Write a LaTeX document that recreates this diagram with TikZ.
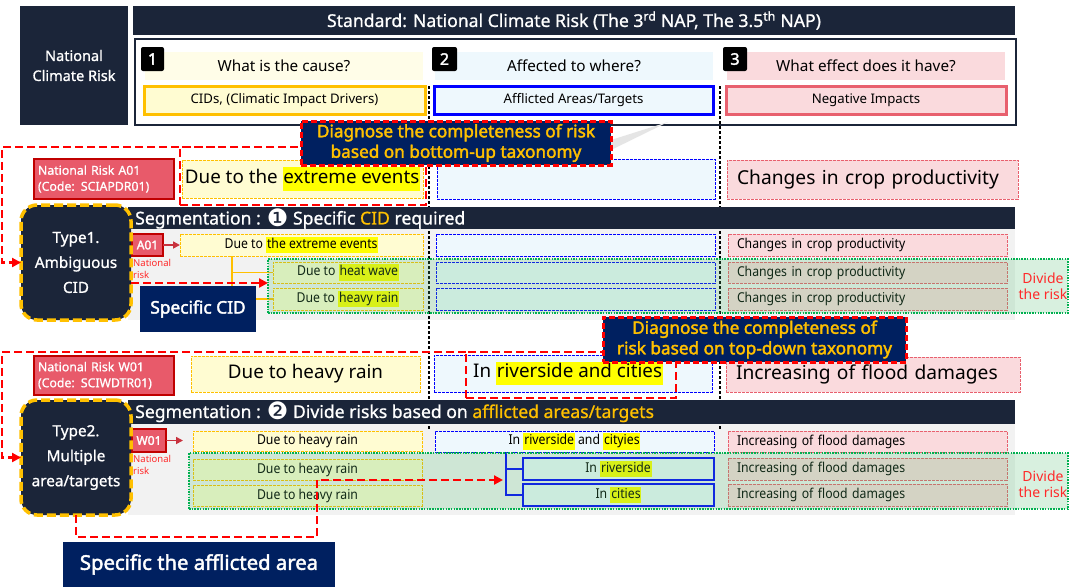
\documentclass[tikz,border=0pt]{standalone}
\usepackage{fontspec}
\setmainfont{Noto Sans}[BoldFont={Noto Sans},BoldFeatures={FakeBold=2.2}]
\newfontfamily\medfont[FakeBold=0.9]{Noto Sans}
\newfontfamily\dingfont{DejaVu Sans}
\newfontfamily\condfont[FakeStretch=0.9]{Noto Sans}
\usetikzlibrary{arrows.meta,calc}

\definecolor{navyA}{HTML}{1B2539}
\definecolor{navyB}{HTML}{002060}
\definecolor{gold}{HTML}{FFC000}
\definecolor{hly}{HTML}{FFFF00}
\definecolor{lyel}{HTML}{FFFCD2}
\definecolor{lyelband}{HTML}{FFFDE8}
\definecolor{lblue}{HTML}{EEF8FD}
\definecolor{lpink}{HTML}{FADADD}
\definecolor{pinkbd}{HTML}{E8606E}
\definecolor{riskfill}{HTML}{E85A6A}
\definecolor{riskbd}{HTML}{C00000}
\definecolor{riskred}{HTML}{FF2A2A}
\definecolor{panel}{HTML}{F2F2F2}
\definecolor{greenbd}{HTML}{00B050}
\definecolor{greenov}{HTML}{50BE6E}
\definecolor{arrowred}{HTML}{C8323E}

\newcommand\fsz[2]{\fontsize{#1}{#2}\selectfont}
\newcommand\hlt[1]{{\setlength\fboxsep{0.8pt}\colorbox{hly}{\strut#1}}}
\newcommand\dingnum[1]{\raisebox{-1.6pt}{\dingfont\fsz{24}{18}#1}}
% box from its top-left (x1,y1) to bottom-right (x2,y2), text centred
\newcommand\mkbox[7]{\node[#6,inner sep=0pt,outer sep=0pt,anchor=north west,
  minimum width={(#4-#2)*1pt},minimum height={(#5-#3)*1pt}] (#1) at (#2,#3) {#7};}
% same, text flush left with a padding
\newcommand\mkboxl[8]{\pgfmathsetmacro\tw{#4-#2-2*#7}\node[#6,inner ysep=0pt,inner xsep=#7pt,
  outer sep=0pt,anchor=north west,text width=\tw pt,align=left,
  minimum height={(#5-#3)*1pt}] (#1) at (#2,#3) {#8};}

\tikzset{
  badge/.style={fill=black,rounded corners=2pt,text=white,font=\fsz{16}{18}\bfseries},
  riskbox/.style={fill=riskfill,draw=riskbd,line width=2pt,text=white,font=\medfont\fsz{12.3}{16}},
  smallrisk/.style={fill=riskfill,draw=riskbd,line width=1.5pt,text=white,font=\fsz{12}{14}\bfseries},
  bigyel/.style={fill=lyel,draw=gold,line width=0.8pt,dash pattern=on 3pt off 1pt,font=\fsz{18.8}{22}},
  bigblue/.style={fill=lblue,draw=blue,line width=0.8pt,dash pattern=on 3pt off 1pt,font=\fsz{18.8}{22}},
  bigpink/.style={fill=lpink,draw=pinkbd,line width=0.8pt,dash pattern=on 3pt off 1pt,font=\fsz{19.2}{22}},
  rowyel/.style={fill=lyel,draw=gold,line width=0.9pt,dash pattern=on 3pt off 1pt,font=\condfont\fsz{13.6}{15}},
  rowblue/.style={fill=lblue,draw=blue,line width=0.9pt,dash pattern=on 3pt off 1pt,font=\condfont\fsz{13.6}{15}},
  rowbluesolid/.style={fill=lblue,draw=blue,line width=1.3pt,font=\condfont\fsz{13.6}{15}},
  rowpink/.style={fill=lpink,draw=pinkbd,line width=0.9pt,dash pattern=on 3pt off 1pt,font=\condfont\fsz{13.6}{15}},
  segbar/.style={fill=navyA},
  segtext/.style={text=white,font=\medfont\fsz{17.6}{18},anchor=west,inner sep=0pt},
  typebox/.style={fill=navyA,draw=gold,line width=3.5pt,dash pattern=on 9pt off 4pt,
    rounded corners=16pt,text=white,align=center,font=\medfont\fsz{15.3}{25}},
  reddash/.style={draw=red,line width=2.5pt,dash pattern=on 8pt off 4pt},
  redtip/.style={-{Triangle[length=9pt,width=9pt]}},
  diagbox/.style={fill=navyB,draw=red,line width=3pt,dash pattern=on 6pt off 3pt,
    text=gold,align=center,font=\fsz{17.2}{20.5}\bfseries},
  specbox/.style={fill=navyB,text=white,font=\fsz{17.3}{20}\bfseries},
  greenov/.style={fill=greenov,fill opacity=0.22,draw=greenbd,draw opacity=1,
    line width=2.5pt,dash pattern=on 1.5pt off 1.2pt},
  divider/.style={draw=black,line width=1.6pt,dash pattern=on 3pt off 2pt},
  natlabel/.style={text=riskred,align=left,font=\fsz{9.5}{12},anchor=north west,inner sep=0pt},
  dividetext/.style={text=riskred,align=center,font=\fsz{14}{16}},
  colq/.style={font=\fsz{15.3}{17}},
  colk/.style={line width=3pt,font=\fsz{13.2}{15}},
}

\begin{document}
\begin{tikzpicture}[x=1pt,y=-1pt]
\useasboundingbox (0,0) rectangle (1070,587);
\fill[white] (0,0) rectangle (1070,587);

% ---------- header ----------
\mkbox{ncr}{20}{6}{128}{125}{fill=navyA,text=white,align=center,font=\medfont\fsz{14.5}{20}}{National\\Climate Risk}
\mkbox{std}{133}{6}{1015}{35}{fill=navyA,text=white,font=\medfont\fsz{17.6}{19}}{Standard: National Climate Risk (The 3\textsuperscript{rd} NAP, The 3.5\textsuperscript{th} NAP)}
\mkbox{tbl}{135}{39}{1016}{125}{draw=navyA,line width=2pt,fill=white}{}
\mkbox{q1}{145}{52}{423}{80}{fill=lyelband,colq}{What is the cause?}
\mkbox{q2}{435}{52}{713}{80}{fill=lblue,colq}{Affected to where?}
\mkbox{q3}{727}{52}{1005}{80}{fill=lpink,colq}{What effect does it have?}
\mkbox{n1}{141}{47}{164}{71}{badge}{1}
\mkbox{n2}{432}{47}{457}{71}{badge}{2}
\mkbox{n3}{723}{47}{747}{71}{badge}{3}
\mkbox{k1}{144}{86}{425}{114}{fill=lyel,draw=gold,colk}{CIDs, (Climatic Impact Drivers)}
\mkbox{k2}{434}{86}{713}{114}{fill=lblue,draw=blue,colk}{Afflicted Areas/Targets}
\mkbox{k3}{726}{86}{1006}{114}{fill=lpink,draw=pinkbd,colk}{Negative Impacts}

% ---------- panels behind the segmented rows ----------
\mkbox{pan1}{128}{229}{1015}{320}{fill=panel}{}
\mkbox{pan2}{128}{424}{1015}{515}{fill=panel}{}

% column dividers
\draw[divider] (429,86) -- (429,430);
\draw[divider] (720,86) -- (720,430);

% ---------- national risk A01 ----------
\mkboxl{natA}{34}{159}{174}{199}{riskbox}{4}{National Risk A01\\(Code: SCIAPDR01)}
\mkbox{dueA}{182}{160}{423}{198}{bigyel}{Due to the \hlt{extreme events}}
\mkbox{blueA}{437}{159}{715}{199}{bigblue}{}
\mkboxl{pinkA}{727}{160}{1018}{199}{bigpink}{10}{Changes in crop productivity}
\mkbox{redA}{180}{147}{426}{205}{reddash}{}

% ---------- type 1 rows ----------
\mkbox{a01}{132}{234}{163}{256}{smallrisk}{A01}
\node[natlabel] (natlab1) at (133,259) {National\\risk};
\mkbox{ya1}{180}{234}{423}{256}{rowyel}{Due to \hlt{the extreme events}}
\mkbox{ya2}{273}{262}{423}{283}{rowyel}{Due to \hlt{heat wave}}
\mkbox{ya3}{273}{288}{423}{310}{rowyel}{Due to \hlt{heavy rain}}
\mkbox{ba1}{436}{234}{715}{256}{rowblue}{}
\mkbox{ba2}{436}{262}{715}{283}{rowblue}{}
\mkbox{ba3}{436}{288}{715}{310}{rowblue}{}
\mkboxl{pa1}{728}{234}{1007}{256}{rowpink}{9}{Changes in crop productivity}
\mkboxl{pa2}{728}{262}{1007}{283}{rowpink}{9}{Changes in crop productivity}
\mkboxl{pa3}{728}{288}{1007}{310}{rowpink}{9}{Changes in crop productivity}

\coordinate (t1) at ($(ya1.south west)+(52,0)$);
\draw[gold,line width=1.6pt] (t1) |- (ya2.west);
\draw[gold,line width=1.6pt] (t1) |- (ya3.west);
\draw[arrowred,line width=1.6pt,-{Triangle[length=7pt,width=7pt]}] (a01.east) -- (ya1.west);

\mkbox{green1}{268}{259}{1068}{313}{greenov}{}
\mkbox{specA}{140}{286}{256}{332}{specbox}{Specific CID}
\node[dividetext] (div1) at (1043,286) {Divide\\the risk};

% ---------- national risk W01 ----------
\mkboxl{natW}{34}{356}{174}{395}{riskbox}{4}{National Risk W01\\(Code: SCIWDTR01)}
\mkbox{dueW}{191}{356}{420}{392}{bigyel}{Due to heavy rain}
\mkbox{blueW}{434}{355}{712}{392}{bigblue}{\hspace*{-10pt}In \hlt{riverside and cities}}
\mkboxl{pinkW}{726}{357}{1020}{392}{bigpink}{10}{Increasing of flood damages}
\mkbox{redW}{466}{352}{676}{398}{reddash}{}

% ---------- type 2 rows ----------
\mkbox{w01}{132}{429}{166}{452}{smallrisk}{W01}
\node[natlabel] (natlab2) at (133,455) {National\\risk};
\mkbox{yw1}{193}{431}{422}{451}{rowyel}{Due to heavy rain}
\mkbox{yw2}{193}{459}{422}{480}{rowyel}{Due to heavy rain}
\mkbox{yw3}{193}{485}{422}{506}{rowyel}{Due to heavy rain}
\mkbox{bw1}{435}{431}{714}{452}{rowblue}{In \hlt{riverside} and \hlt{cityies}}
\mkbox{bw2}{523}{458}{714}{480}{rowbluesolid}{In \hlt{riverside}}
\mkbox{bw3}{523}{484}{714}{506}{rowbluesolid}{In \hlt{cities}}
\mkboxl{pw1}{728}{431}{1007}{452}{rowpink}{9}{Increasing of flood damages}
\mkboxl{pw2}{728}{458}{1007}{480}{rowpink}{9}{Increasing of flood damages}
\mkboxl{pw3}{728}{484}{1007}{506}{rowpink}{9}{Increasing of flood damages}

\coordinate (t2) at ($(bw1.south west)+(71,0)$);
\draw[blue,line width=2pt] (t2) |- (bw2.west);
\draw[blue,line width=2pt] (t2) |- (bw3.west);
\coordinate (w01tip) at ($(w01.east)+(17,0)$);
\draw[arrowred,line width=1.6pt,-{Triangle[length=7pt,width=7pt]}] (w01.east) -- (w01tip);

\mkbox{green2}{189}{453}{1068}{509}{greenov}{}
\node[dividetext] (div2) at (1043,484) {Divide\\the risk};

% ---------- segmentation bars ----------
\mkbox{seg1}{128}{207}{1015}{229}{segbar}{}
\node[segtext] (seg1t) at (135,218.5) {Segmentation : \dingnum{❶} Specific \textcolor{gold}{CID} required};
\mkbox{seg2}{128}{400}{1015}{424}{segbar}{}
\node[segtext] (seg2t) at (135,412) {Segmentation : \dingnum{❷} Divide risks based on \textcolor{gold}{afflicted areas/targets}};

% ---------- type boxes ----------
\mkbox{type1}{21}{205}{131}{320}{typebox}{Type1.\\Ambiguous\\CID}
\mkbox{type2}{21}{400}{131}{515}{typebox}{Type2.\\Multiple\\area/targets}

% ---------- red dashed flows ----------
\coordinate (c1) at (2,147);
\draw[reddash,redtip] ($(redA.north west)+(35,0)$) -- (c1) |- (type1.west);
\coordinate (r1s) at ($(type1.south east)+(0,-37)$);
\draw[reddash,redtip] (r1s) -- (r1s -| green1.west);

\coordinate (c2) at (2,352);
\draw[reddash,redtip] (redW.north west) -- (c2) |- (type2.west);
\coordinate (q1) at (317,537);
\coordinate (q2) at (503,480);
\draw[reddash,redtip] (type2.south) |- (q1) |- (q2);

% ---------- diagnosis call-outs ----------
\coordinate (tailtip) at (668,122);
\fill[black!10] ($(redA.north east)+(185,-7)$) -- (tailtip) -- ($(redA.north east)+(185,3)$) -- cycle;
\mkbox{diag1}{301}{121}{611}{165}{diagbox}{Diagnose the completeness of risk\\based on bottom-up taxonomy}
\mkbox{diag2}{603}{317}{906}{362}{diagbox}{Diagnose the completeness of\\risk based on top-down taxonomy}

\mkbox{specW}{63}{542}{335}{587}{specbox,font=\fsz{20.3}{22}\bfseries}{Specific the afflicted area}
\end{tikzpicture}
\end{document}
